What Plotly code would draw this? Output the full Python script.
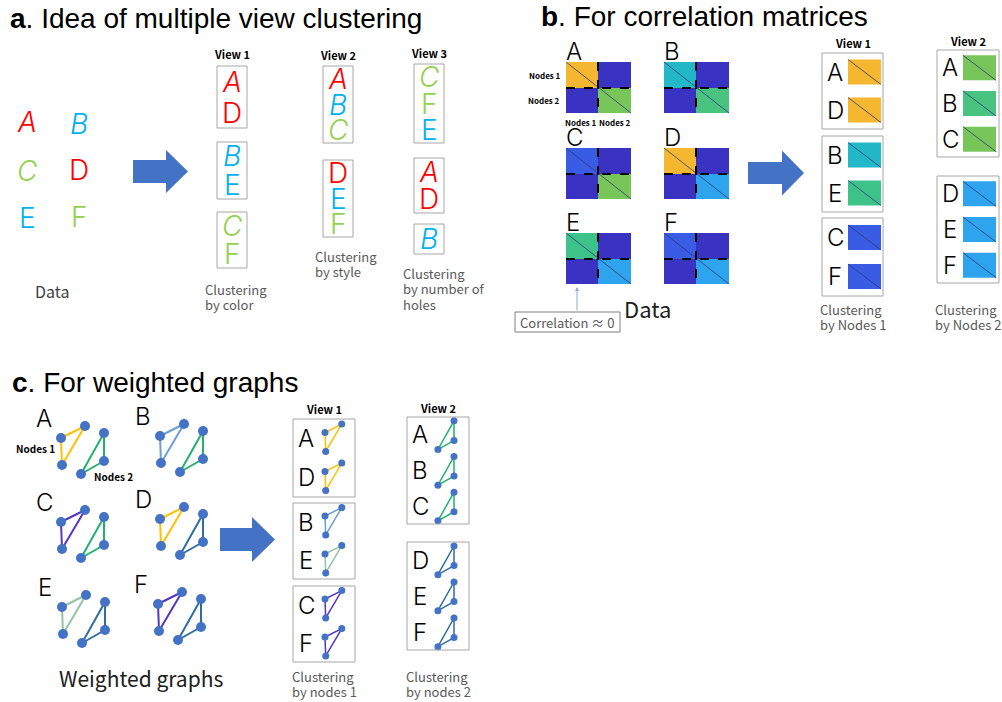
import plotly.graph_objects as go

W, H = 1002, 702

letters = ["A", "B", "C", "D", "E", "F"]

# panel a: colour and style of each letter
color_a = ["#FF0000", "#00B0F0", "#92D050", "#FF0000", "#00B0F0", "#92D050"]
italic_a = [True, True, True, False, False, False]
views_a = [
    [["A", "D"], ["B", "E"], ["C", "F"]],
    [["A", "B", "C"], ["D", "E", "F"]],
    [["C", "F", "E"], ["A", "D"], ["B"]],
]
captions_a = [["Clustering", "by color"], ["Clustering", "by style"],
              ["Clustering", "by number of", "holes"]]

# panel b: block colours of each correlation matrix
block1_b = ["#F5B72F", "#22B8C8", "#3A5BE4", "#F5B72F", "#3DC28A", "#3A5BE4"]
block2_b = ["#78C65A", "#48C480", "#78C65A", "#2EA4EE", "#2EA4EE", "#2EA4EE"]
offdiag_b = "#3A33C2"
views_b = [
    [["A", "D"], ["B", "E"], ["C", "F"]],
    [["A", "B", "C"], ["D", "E", "F"]],
]
captions_b = [["Clustering", "by Nodes 1"], ["Clustering", "by Nodes 2"]]

# panel c: edge colours of each weighted graph
edge1_c = ["#FFC000", "#6A9FD6", "#5236C8", "#FFC000", "#93C3A5", "#5236C8"]
edge2_c = ["#21B26B", "#21B26B", "#21B26B", "#2E6E9E", "#2E6E9E", "#2E6E9E"]
views_c = [
    [["A", "D"], ["B", "E"], ["C", "F"]],
    [["A", "B", "C"], ["D", "E", "F"]],
]
captions_c = [["Clustering", "by nodes 1"], ["Clustering", "by nodes 2"]]

SANS = "Liberation Sans, Arial"
JP = "Noto Sans CJK JP, Noto Sans"
THIN = "Inter, Noto Sans CJK JP"
GRAY = "#595959"
BOX = "#A6A6A6"
NODE = "#4472C4"

fig = go.Figure()
shapes = []
ann = []


def text(x, y, s, size, color="black", family=JP, xanchor="center",
         yanchor="middle", weight="normal"):
    ann.append(dict(x=x, y=y, text=s, showarrow=False, xanchor=xanchor,
                    yanchor=yanchor, align="left",
                    font=dict(size=size, color=color, family=family, weight=weight)))


def caption(x, y, lines, pitch=15.5):
    for j, line in enumerate(lines):
        text(x, y + j * pitch, line, 13, color=GRAY, xanchor="left")


def box(x0, y0, x1, y1, color=BOX):
    shapes.append(dict(type="rect", x0=x0, y0=y0, x1=x1, y1=y1,
                       line=dict(color=color, width=1)))


def arrow(x0, xm, x1, yc, bh, hh):
    p = (f"M{x0},{yc - bh / 2} L{xm},{yc - bh / 2} L{xm},{yc - hh} L{x1},{yc} "
         f"L{xm},{yc + hh} L{xm},{yc + bh / 2} L{x0},{yc + bh / 2} Z")
    shapes.append(dict(type="path", path=p, fillcolor="#4472C4",
                       line=dict(width=0)))


def rows(y0, y1, n):
    return [y0 + (y1 - y0) * (i + 0.5) / n for i in range(n)]


# ---------------- panel a ----------------
text(8, 18, "<b>a</b>. Idea of multiple view clustering", 28, family=SANS,
     xanchor="left")


def letter_a(x, y, k):
    i = letters.index(k)
    s = f"<i>{k}</i>" if italic_a[i] else k
    text(x, y, s, 28, color=color_a[i], family=THIN, weight=300)


grid_a = {"A": (27, 122), "B": (79, 124), "C": (27, 171),
          "D": (79, 170), "E": (27, 218), "F": (79, 217)}
for k, (x, y) in grid_a.items():
    letter_a(x, y, k)
text(52, 291, "Data", 16, color="#404040")
arrow(133, 166, 188, 171.5, 23, 21.5)

view_x_a = [(217, 247), (323, 353), (414, 444)]
view_y_a = [[(66, 128), (142, 199), (212, 268)],
            [(66, 143), (160, 237)],
            [(64, 143), (158, 213), (224, 254)]]
label_y_a = [54, 55, 53]
caption_pos_a = [(203, 289), (313, 256), (401, 273)]
for v, groups in enumerate(views_a):
    x0, x1 = view_x_a[v]
    text((x0 + x1) / 2, label_y_a[v], f"View {v + 1}", 11, weight="bold")
    for g, (y0, y1) in zip(groups, view_y_a[v]):
        box(x0, y0, x1, y1)
        for k, yc in zip(g, rows(y0, y1, len(g))):
            letter_a((x0 + x1) / 2, yc, k)
    cx, cy = caption_pos_a[v]
    caption(cx, cy, captions_a[v])

# ---------------- panel b ----------------
text(539, 16, "<b>b</b>. For correlation matrices", 28, family=SANS,
     xanchor="left")

mat_x = [566, 664]
mat_y = [62, 148, 233]
mw, mh = 65, 51
for i, k in enumerate(letters):
    x0 = mat_x[i % 2]
    y0 = mat_y[i // 2]
    xs, ys = x0 + 32, y0 + 26
    quads = [(x0, y0, xs, ys, block1_b[i]), (xs, y0, x0 + mw, ys, offdiag_b),
             (x0, ys, xs, y0 + mh, offdiag_b), (xs, ys, x0 + mw, y0 + mh, block2_b[i])]
    for a0, b0, a1, b1, c in quads:
        shapes.append(dict(type="rect", x0=a0, y0=b0, x1=a1, y1=b1,
                           fillcolor=c, line=dict(width=0)))
    shapes.append(dict(type="line", x0=x0, y0=y0, x1=x0 + mw, y1=y0 + mh,
                       line=dict(color="#2B3A7A", width=0.8)))
    shapes.append(dict(type="line", x0=xs, y0=y0, x1=xs, y1=y0 + mh,
                       line=dict(color="black", width=2, dash="dash")))
    shapes.append(dict(type="line", x0=x0, y0=ys, x1=x0 + mw, y1=ys,
                       line=dict(color="black", width=2, dash="dash")))
    text(x0 - 2, y0 - 11, k, 24, family=THIN, weight=300, xanchor="left")

text(545, 75, "Nodes 1", 8, weight="bold")
text(544, 100, "Nodes 2", 8, weight="bold")
text(581, 122, "Nodes 1", 8, weight="bold")
text(615, 122, "Nodes 2", 8, weight="bold")
text(647, 308, "Data", 22, color="#202020")
box(515, 312, 620, 332, color="#7F7F7F")
text(567, 322, "Correlation ≈ 0", 13, color=GRAY)
ann.append(dict(x=577, y=287, ax=577, ay=312, axref="x", ayref="y",
                showarrow=True, arrowhead=2, arrowsize=0.8, arrowwidth=1,
                arrowcolor="#8FAADC", text=""))
arrow(748, 782, 804, 173, 22, 22.5)

view_b_x = [(822, 883), (937, 999)]
view_b_y = [[(53, 129), (136, 212), (218, 296)], [(50, 157), (176, 283)]]
label_y_b = [43, 41]
for v, groups in enumerate(views_b):
    x0, x1 = view_b_x[v]
    text((x0 + x1) / 2, label_y_b[v], f"View {v + 1}", 11, weight="bold")
    for g, (y0, y1) in zip(groups, view_b_y[v]):
        box(x0, y0, x1, y1)
        for k, yc in zip(g, rows(y0, y1, len(g))):
            i = letters.index(k)
            c = block1_b[i] if v == 0 else block2_b[i]
            text(x0 + 13, yc, k, 24, family=THIN, weight=300)
            sx0, sx1 = x0 + 26, x0 + 59
            shapes.append(dict(type="rect", x0=sx0, y0=yc - 12.5, x1=sx1,
                               y1=yc + 12.5, fillcolor=c, line=dict(width=0)))
            shapes.append(dict(type="line", x0=sx0, y0=yc - 12.5, x1=sx1,
                               y1=yc + 12.5, line=dict(color="#2B3A7A", width=0.8)))
    caption(x0 - 4, 309, captions_b[v])

# ---------------- panel c ----------------
text(10, 382, "<b>c</b>. For weighted graphs", 28, family=SANS, xanchor="left")

tri1 = [(0, 0), (24, -12), (1, 27)]
tri2 = [(43, -5), (43, 23), (20, 36)]


def triangle(pts, color, width, size):
    xs = [p[0] for p in pts] + [pts[0][0]]
    ys = [p[1] for p in pts] + [pts[0][1]]
    fig.add_trace(go.Scatter(x=xs, y=ys, mode="lines", hoverinfo="skip",
                             line=dict(color=color, width=width)))
    fig.add_trace(go.Scatter(x=xs[:3], y=ys[:3], mode="markers", hoverinfo="skip",
                             marker=dict(color=NODE, size=size)))


graph_pos = [(61, 438), (160, 436), (61, 522), (160, 519), (62, 607), (158, 604)]
for i, k in enumerate(letters):
    ox, oy = graph_pos[i]
    triangle([(ox + a, oy + b) for a, b in tri1], edge1_c[i], 2, 10)
    triangle([(ox + a, oy + b) for a, b in tri2], edge2_c[i], 2, 10)
    text(ox - 17, oy - 20, k, 24, family=THIN, weight=300)

text(35, 448, "Nodes 1", 10, weight="bold")
text(113, 476, "Nodes 2", 10, weight="bold")
text(141, 678, "Weighted graphs", 21, color="#202020")
arrow(220, 252, 275, 539.5, 23, 22.5)

s = 0.7
view_c_x = [(293, 355), (407, 469)]
view_c_y = [[(419, 497), (503, 579), (586, 662)], [(417, 524), (542, 650)]]
label_y_c = [409, 408]
for v, groups in enumerate(views_c):
    x0, x1 = view_c_x[v]
    text((x0 + x1) / 2, label_y_c[v], f"View {v + 1}", 11, weight="bold")
    for g, (y0, y1) in zip(groups, view_c_y[v]):
        box(x0, y0, x1, y1)
        for k, yc in zip(g, rows(y0, y1, len(g))):
            i = letters.index(k)
            text(x0 + 13, yc, k, 24, family=THIN, weight=300)
            if v == 0:
                ax, ay = x0 + 32, yc - 6
                pts = [(ax + a * s, ay + b * s) for a, b in tri1]
                triangle(pts, edge1_c[i], 1.5, 7)
            else:
                ax, ay = x0 + 47, yc - 14
                bx, by = tri2[0]
                pts = [(ax + (a - bx) * s, ay + (b - by) * s) for a, b in tri2]
                triangle(pts, edge2_c[i], 1.5, 7)
    caption(x0 - 3, 676, captions_c[v])

fig.update_layout(
    width=W, height=H,
    margin=dict(l=0, r=0, t=0, b=0),
    paper_bgcolor="white", plot_bgcolor="white",
    showlegend=False,
    xaxis=dict(range=[0, W], visible=False, fixedrange=True),
    yaxis=dict(range=[H, 0], visible=False, fixedrange=True),
    shapes=shapes,
    annotations=ann,
)

# drop the default 8px page margin so the figure fills the window exactly
fig.write_html("out.html", config={"displayModeBar": False},
               post_script="document.body.style.margin='0';"
                           "document.body.style.overflow='hidden';")
